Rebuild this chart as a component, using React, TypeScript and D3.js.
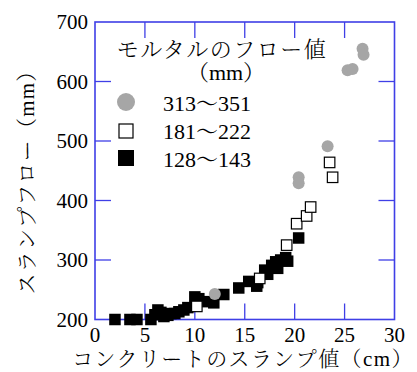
import React from "react";
import * as d3 from "d3";

const xTicks = [0, 5, 10, 15, 20, 25, 30];
const yTicks = [200, 300, 400, 500, 600, 700];

const legendTitle = "モルタルのフロー値";
const legendUnit = "（mm）";
const seriesLabels = ["313～351", "181～222", "128～143"];

const xLabel = "コンクリートのスランプ値（cm）";
const yLabel = "スランプフロー（mm）";

// gray circles: mortar flow 313-351
const graySlump = [12.0, 20.4, 20.4, 23.3, 25.3, 25.8, 26.8, 26.9];
const grayFlow = [243, 439, 429, 491, 619, 621, 655, 645];

// open squares: mortar flow 181-222
const openSlump = [10.2, 16.5, 19.2, 20.2, 21.2, 21.6, 23.5, 23.8];
const openFlow = [222, 269, 325, 361, 374, 389, 464, 439];

// filled squares: mortar flow 128-143
const fillSlump = [2.0, 3.5, 4.2, 5.6, 6.0, 6.3, 6.6, 6.9, 7.3, 7.6, 8.0, 8.4, 8.9, 9.3, 10.0, 10.4, 11.3, 11.9, 12.9, 14.4, 15.4, 16.2, 16.3, 17.0, 17.3, 17.7, 18.1, 18.6, 19.1, 19.3, 18.3, 20.4];
const fillFlow = [200, 200, 200, 200, 208, 216, 212, 205, 207, 210, 210, 213, 216, 220, 238, 235, 230, 228, 242, 253, 264, 256, 262, 283, 276, 291, 297, 300, 304, 298, 286, 337];

const W = 417;
const H = 372;
const L = 95, R = 394.5, T = 22, B = 319.5;
const AX = "#3f3fe6";
const SERIF = "'Liberation Serif', 'Times New Roman', 'Noto Serif CJK JP', 'Noto Sans CJK JP', serif";

export default function App() {
  const x = d3.scaleLinear().domain([0, 30]).range([L, R]);
  const y = d3.scaleLinear().domain([200, 700]).range([B, T]);
  const tl = 16;
  const s = 11.5;

  return (
    <svg width={W} height={H} style={{ position: "absolute", left: 0, top: 0, background: "#fff" }}>
      <rect x={0} y={0} width={W} height={H} fill="#fff" />
      {/* ticks */}
      {xTicks.slice(1, -1).map((t) => (
        <g key={"xt" + t}>
          <line x1={x(t)} x2={x(t)} y1={B} y2={B - tl} stroke={AX} strokeWidth={1.3} />
          <line x1={x(t)} x2={x(t)} y1={T} y2={T + tl} stroke={AX} strokeWidth={1.3} />
        </g>
      ))}
      {yTicks.slice(1, -1).map((t) => (
        <g key={"yt" + t}>
          <line x1={L} x2={L + tl} y1={y(t)} y2={y(t)} stroke={AX} strokeWidth={1.3} />
          <line x1={R} x2={R - tl} y1={y(t)} y2={y(t)} stroke={AX} strokeWidth={1.3} />
        </g>
      ))}
      <rect x={L} y={T} width={R - L} height={B - T} fill="none" stroke={AX} strokeWidth={1.6} />

      {/* tick labels */}
      {xTicks.map((t) => (
        <text key={"xl" + t} x={x(t)} y={342} textAnchor="middle" fontFamily={SERIF} fontSize={21} fill="#000">
          {t}
        </text>
      ))}
      {yTicks.map((t) => (
        <text key={"yl" + t} x={88} y={y(t) + 7} textAnchor="end" fontFamily={SERIF} fontSize={21} fill="#000">
          {t}
        </text>
      ))}

      {/* axis labels */}
      <text x={243} y={366} textAnchor="middle" fontFamily={SERIF} fontSize={21} fontWeight={300} letterSpacing={1.4} fill="#000">
        {xLabel}
      </text>
      <text transform={`translate(34,177) rotate(-90)`} textAnchor="middle" fontFamily={SERIF} fontSize={21} fontWeight={300} letterSpacing={1.2} fill="#000">
        {yLabel}
      </text>

      {/* data */}
      {fillSlump.map((v, i) => (
        <rect key={"f" + i} x={x(v) - s / 2} y={y(fillFlow[i]) - s / 2} width={s} height={s} fill="#000" />
      ))}
      {graySlump.map((v, i) => (
        <circle key={"g" + i} cx={x(v)} cy={y(grayFlow[i])} r={6} fill="#a6a6a6" />
      ))}
      {openSlump.map((v, i) => (
        <rect key={"o" + i} x={x(v) - s / 2 + 0.5} y={y(openFlow[i]) - s / 2 + 0.5} width={s - 1} height={s - 1} fill="#fff" stroke="#000" strokeWidth={1.2} />
      ))}

      {/* legend */}
      <text x={222} y={57} textAnchor="middle" fontFamily={SERIF} fontSize={22} fontWeight={300} letterSpacing={1.5} fill="#000">
        {legendTitle}
      </text>
      <text x={226} y={80} textAnchor="middle" fontFamily={SERIF} fontSize={22} fontWeight={300} fill="#000">
        {legendUnit}
      </text>
      <circle cx={126} cy={102} r={9} fill="#a6a6a6" />
      <rect x={119} y={124} width={14} height={14} fill="#fff" stroke="#000" strokeWidth={1.2} />
      <rect x={118} y={150} width={16} height={16} fill="#000" />
      {seriesLabels.map((lab, i) => (
        <text key={"lg" + i} x={163} y={111 + i * 28} fontFamily={SERIF} fontSize={22} fill="#000">
          {lab}
        </text>
      ))}
    </svg>
  );
}
